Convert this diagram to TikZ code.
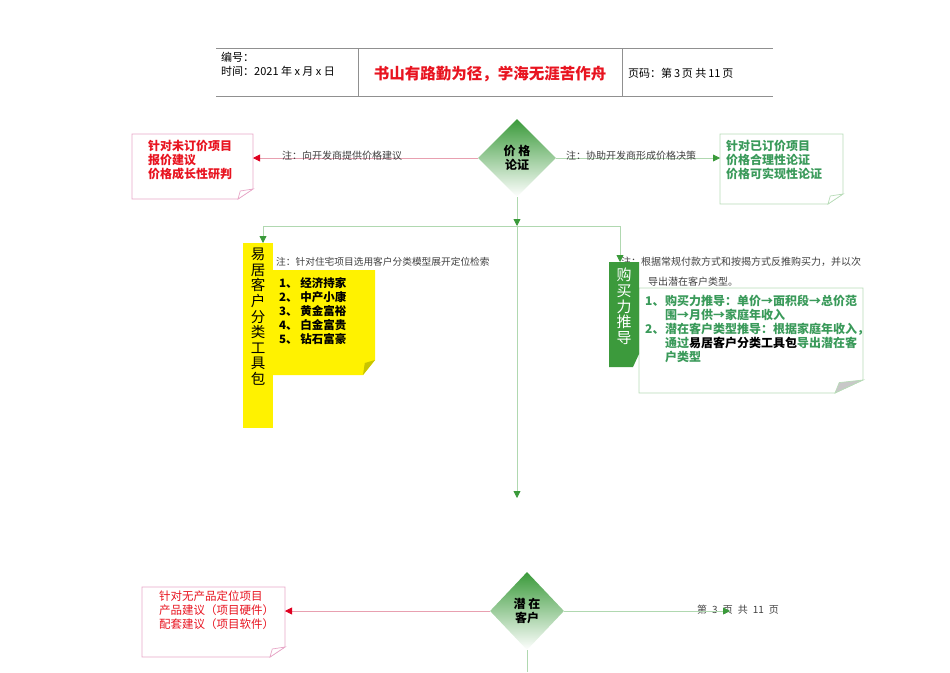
\documentclass[tikz,border=0pt]{standalone}
\usepackage{fontspec}
\setmainfont{Noto Sans CJK SC}
\usetikzlibrary{arrows.meta,shapes.geometric,calc}
\definecolor{lgreen}{HTML}{B0D8B0}
\definecolor{agreen}{HTML}{3A9A3A}
\definecolor{lred}{HTML}{E8A0B0}
\definecolor{ared}{HTML}{E00020}
\definecolor{pinkb}{HTML}{E8A8C8}
\definecolor{gboxb}{HTML}{B8DCB8}
\definecolor{redtxt}{HTML}{E81420}
\definecolor{grtxt}{HTML}{3A9A5A}
\definecolor{notegray}{HTML}{404040}
\definecolor{barg}{HTML}{3C9A3C}
\definecolor{yfold}{HTML}{C8C400}
\definecolor{hgray}{HTML}{909090}
\definecolor{gfold}{HTML}{C8C8C8}
\newcommand\foldbox[6]{%
  \path[draw=#4,fill=#5,line width=0.7pt] (#1.north west) -- (#1.north east) -- ($(#1.south east)+(0,-#3)$) -- ($(#1.south east)+(-#2,0)$) -- (#1.south west) -- cycle;
  \path[draw=#4,fill=#6,line width=0.7pt] ($(#1.south east)+(0,-#3)$) -- ($(#1.south east)+(-#2,0)$) -- ($(#1.south east)+(-0.85*#2,-0.8*#3)$) -- cycle;
}
\begin{document}
\begin{tikzpicture}[x=1pt,y=-1pt,
  gline/.style={draw=lgreen,line width=0.8pt},
  rline/.style={draw=lred,line width=0.8pt},
  gtip/.style={-{Triangle[color=agreen,length=7pt,width=7pt]}},
  rtip/.style={-{Triangle[color=ared,length=7pt,width=7pt]}},
  dia/.style={diamond,shape aspect=1,minimum width=78pt,minimum height=78pt,inner sep=0pt,top color=agreen,bottom color=white,align=center,font=\fontsize{12}{14}\selectfont\bfseries},
  boxn/.style={anchor=north west,inner sep=0pt,outer sep=0pt},
  txt/.style={anchor=north west,inner sep=0pt,align=left},
  note/.style={inner sep=0pt,text=notegray,font=\fontsize{10}{12}\selectfont},
  hdr/.style={draw=hgray,line width=1pt}
]
\useasboundingbox (0,0) rectangle (950,672);
% ---------- header ----------
\draw[hdr] (216,48) -- (773,48);
\draw[hdr] (216,96) -- (773,96);
\draw[hdr] (358,48) -- (358,96);
\draw[hdr] (622,48) -- (622,96);
\node[anchor=west,inner sep=0pt,font=\fontsize{11}{13}\selectfont] (hno) at (221,57) {编号：};
\node[anchor=west,inner sep=0pt,font=\fontsize{11}{13}\selectfont] (htime) at (221,71) {时间：2021 年 x 月 x 日};
\node[inner sep=0pt,text=redtxt,font=\fontsize{15.5}{18}\selectfont\bfseries] (htitle) at (490,74) {书山有路勤为径，学海无涯苦作舟};
\node[anchor=west,inner sep=0pt,font=\fontsize{11}{13}\selectfont] (hpage) at (628,73) {页码：第\,3\,页 共\,11\,页};
% ---------- price diamond ----------
\node[dia] (d1) at (517,158) {价 格\\论证};
\node[boxn,minimum width=121pt,minimum height=65pt] (lb1) at (132,134) {};
\foldbox{lb1}{15}{10}{pinkb}{white}{white}
\node[txt,text=redtxt,font=\fontsize{12}{14}\selectfont\bfseries] (lb1t) at (148,140) {针对未订价项目\\报价建议\\价格成长性研判};
\node[boxn,minimum width=123pt,minimum height=70pt] (rb1) at (720,134) {};
\foldbox{rb1}{15}{10}{gboxb}{white}{white}
\node[txt,text=grtxt,font=\fontsize{12}{14}\selectfont\bfseries] (rb1t) at (726,140) {针对已订价项目\\价格合理性论证\\价格可实现性论证};
\draw[rline,rtip] (d1.west) -- (lb1.east |- d1.west);
\draw[gline,gtip] (d1.east) -- (rb1.west |- d1.east);
\node[note,anchor=west] (n1) at (282,156) {注：向开发商提供价格建议};
\node[note,anchor=west] (n2) at (566,156) {注：协助开发商形成价格决策};
% ---------- branch ----------
\coordinate (j) at (517,226);
\coordinate (jl) at (263,226);
\coordinate (jr) at (620,226);
\coordinate (cend) at (517,498);
\draw[gline,gtip] (d1.south) -- (j);
\draw[gline] (jl) -- (jr);
\draw[gline,gtip] (j) -- (cend);
% ---------- yellow tool ----------
\node[boxn,minimum width=102pt,minimum height=105pt] (yn) at (273,270) {};
\foldbox{yn}{12}{15}{none}{yellow}{yfold}
\node[boxn,fill=yellow,minimum width=30pt,minimum height=185pt] (yb) at (243,243) {};
\draw[gline,gtip] (jl) -- (jl |- yb.north);
\node[anchor=north,inner sep=0pt,align=center,font=\fontsize{14.5}{15.6}\selectfont] (ybt) at (258,248) {易\\居\\客\\户\\分\\类\\工\\具\\包};
\node[note,anchor=west,font=\fontsize{9.7}{12}\selectfont] (n3) at (276,262) {注：针对住宅项目选用客户分类模型展开定位检索};
\node[txt,font=\fontsize{11.5}{14}\selectfont\bfseries] (ynt) at (279,277) {1、 经济持家\\2、 中产小康\\3、 黄金富裕\\4、 白金富贵\\5、 钻石富豪};
% ---------- purchasing power ----------
\node[note,txt,font=\fontsize{10}{20}\selectfont] (n4) at (621,257) {注：根据常规付款方式和按揭方式反推购买力，并以次\\\hspace*{27pt}导出潜在客户类型。};
\node[boxn,minimum width=224pt,minimum height=105pt] (gn) at (639,288) {};
\foldbox{gn}{28}{13}{gboxb}{white}{gfold}
\node[boxn,minimum width=30pt,minimum height=105pt] (gb) at (609,262) {};
\path[fill=barg] (gb.north west) -- (gb.north east) -- ($(gb.south east)+(0,-13)$) -- ($(gb.south east)+(-6,0)$) -- (gb.south west) -- cycle;
\draw[gline,gtip] (jr) -- (jr |- gb.north);
\node[anchor=north,inner sep=0pt,align=center,text=white,font=\fontsize{15}{15.6}\selectfont] (gbt) at (624,268) {购\\买\\力\\推\\导};
\node[txt,text=grtxt,font=\fontsize{12}{14}\selectfont\bfseries] (gnt) at (645,295) {\makebox[20pt][l]{1、}购买力推导：单价→面积段→总价范\\\hspace*{20pt}围→月供→家庭年收入\\\makebox[20pt][l]{2、}潜在客户类型推导：根据家庭年收入，\\\hspace*{20pt}通过\textcolor{black}{易居客户分类工具包}导出潜在客\\\hspace*{20pt}户类型};
% ---------- potential customers ----------
\node[dia,minimum width=74pt,minimum height=78pt] (d2) at (527,611) {潜 在\\客户};
\node[boxn,minimum width=143pt,minimum height=70pt] (lb2) at (142,587) {};
\foldbox{lb2}{15}{10}{pinkb}{white}{white}
\node[txt,text=redtxt,font=\fontsize{11.5}{14}\selectfont] (lb2t) at (159,591) {针对无产品定位项目\\产品建议（项目硬件）\\配套建议（项目软件）};
\draw[rline,rtip] (d2.west) -- (lb2.east |- d2.west);
\node[note,anchor=west] (foot) at (697,610) {第\hspace{5pt}3\hspace{5pt}页\hspace{5pt}共\hspace{5pt}11\hspace{5pt}页};
\coordinate (rend) at (730,611);
\draw[gline,gtip] (d2.east) -- (rend);
\coordinate (cbot) at (527,672);
\draw[gline] (d2.south) -- (cbot);
\end{tikzpicture}
\end{document}
